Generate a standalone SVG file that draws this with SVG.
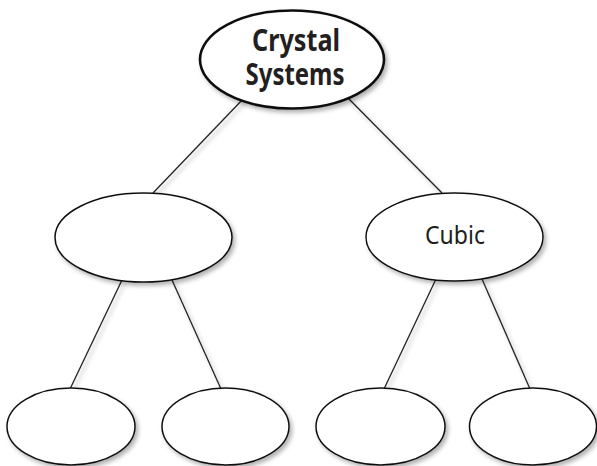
<svg xmlns="http://www.w3.org/2000/svg" width="597" height="466" viewBox="0 0 597 466">
<defs>
<filter id="sh" x="-20%" y="-20%" width="150%" height="150%">
<feDropShadow dx="2.5" dy="3" stdDeviation="2.2" flood-color="#000" flood-opacity="0.3"/>
</filter>
<style>
.node{fill:#fff;stroke:#111;stroke-width:1.5;filter:url(#sh)}
.main{stroke-width:2.6}
.conn line{stroke:#222;stroke-width:1.3;filter:url(#sh)}
.t{font-family:"Noto Sans","Open Sans",sans-serif;fill:#231f20;text-anchor:middle}
.b{font-weight:bold;font-size:30px}
.r{font-size:25px}
</style>
</defs>
<rect width="597" height="466" fill="#fff"/>
<g id="connectors" class="conn">
<line x1="244" y1="98" x2="153" y2="193"/>
<line x1="348" y1="98" x2="442" y2="193"/>
<line x1="122" y1="280" x2="70" y2="389"/>
<line x1="172" y1="280" x2="221" y2="389"/>
<line x1="436" y1="279" x2="384" y2="389"/>
<line x1="482" y1="279" x2="530" y2="389"/>
</g>
<g id="crystal-systems">
<ellipse class="node main" cx="292" cy="59.5" rx="92" ry="49"/>
<text class="t b" x="296" y="51" textLength="88" lengthAdjust="spacingAndGlyphs">Crystal</text>
<text class="t b" x="295" y="85" textLength="99" lengthAdjust="spacingAndGlyphs">Systems</text>
</g>
<g id="left-middle">
<ellipse class="node" cx="143.5" cy="237.5" rx="88.5" ry="44.5"/>
</g>
<g id="cubic">
<ellipse class="node" cx="454.5" cy="237" rx="88.5" ry="44"/>
<text class="t r" x="455" y="244" textLength="60" lengthAdjust="spacingAndGlyphs">Cubic</text>
</g>
<g id="bottom-1"><ellipse class="node" cx="71" cy="426.5" rx="64" ry="38.5"/></g>
<g id="bottom-2"><ellipse class="node" cx="225.5" cy="426.5" rx="63.5" ry="38.5"/></g>
<g id="bottom-3"><ellipse class="node" cx="380.5" cy="426.5" rx="64.5" ry="38.5"/></g>
<g id="bottom-4"><ellipse class="node" cx="533" cy="426.5" rx="63.5" ry="38.5"/></g>
</svg>
